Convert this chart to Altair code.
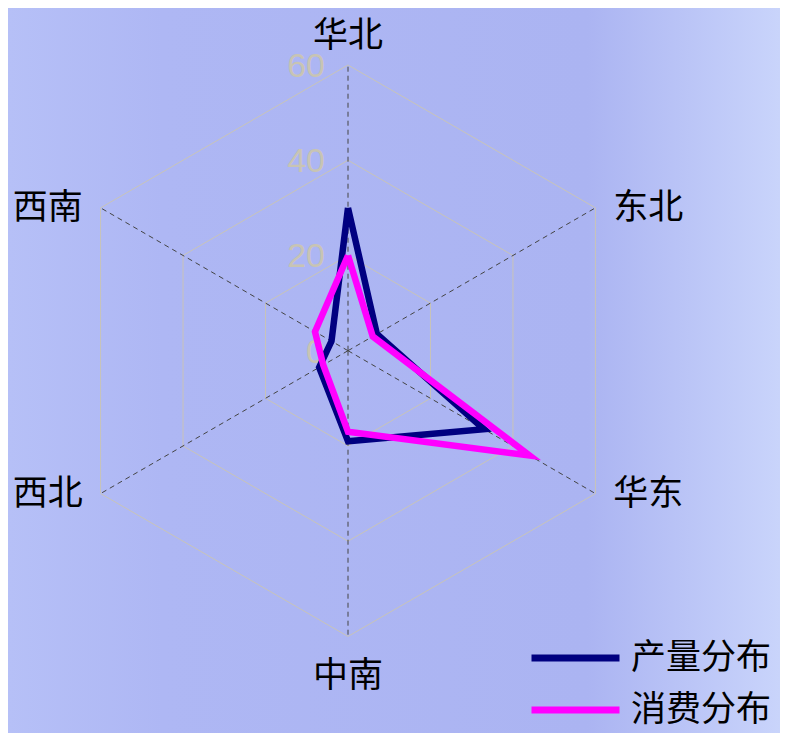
import altair as alt
import pandas as pd

# ---- data ----
regions = ["华北", "东北", "华东", "中南", "西北", "西南"]
production = [30, 7, 33, 19, 7, 4]      # 产量分布
consumption = [20, 6, 44, 17, 6, 8]     # 消费分布
series_names = ["产量分布", "消费分布"]
series_colors = ["#000080", "#ff00ff"]
tick_values = [0, 20, 40, 60]
grid_levels = [20, 40, 60]
R_MAX = 60

# ---- tables built from the arrays ----
n = len(regions)
rows = []
for name, vals in zip(series_names, [production, consumption]):
    closed = vals + [vals[0]]
    for i, v in enumerate(closed):
        rows.append({"series": name, "idx": i % n, "order": i, "value": v})
series_df = pd.DataFrame(rows)

grid_rows = []
for lvl in grid_levels:
    for i in range(n + 1):
        grid_rows.append({"level": lvl, "idx": i % n, "order": i, "value": lvl})
grid_df = pd.DataFrame(grid_rows)

region_df = pd.DataFrame({"region": regions, "idx": list(range(n)), "value": [R_MAX] * n})
tick_df = pd.DataFrame({"tick": tick_values, "label": [str(t) for t in tick_values]})

W, H = 772, 725
xscale = alt.Scale(domain=[-71.40, 90.72], nice=False, zero=False)
yscale = alt.Scale(domain=[-80.28, 71.97], nice=False, zero=False)

ANG = "datum.idx * 2 * PI / 6"

def polar(chart):
    return chart.transform_calculate(
        px=f"datum.value * sin({ANG})",
        py=f"datum.value * cos({ANG})",
    )

# background gradient
bg = alt.Chart(alt.Data(values=[{"a": 1}])).mark_rect(
    fill=alt.LinearGradient(
        gradient="linear", x1=0, x2=1, y1=0, y2=0,
        stops=[
            alt.GradientStop(color="#b6c0f7", offset=0),
            alt.GradientStop(color="#aeb7f4", offset=0.2),
            alt.GradientStop(color="#abb4f2", offset=0.75),
            alt.GradientStop(color="#c9d4fb", offset=1),
        ],
    ),
    stroke=None,
).encode(x=alt.value(0), x2=alt.value(W), y=alt.value(0), y2=alt.value(H))

grid = polar(alt.Chart(grid_df)).mark_line(
    color="#c8c4b8", strokeWidth=1
).encode(
    x=alt.X("px:Q", scale=xscale, axis=None),
    y=alt.Y("py:Q", scale=yscale, axis=None),
    detail="level:N",
    order="order:Q",
)

spokes = alt.Chart(region_df).transform_calculate(
    x0="0", y0="0",
    px=f"datum.value * sin({ANG})",
    py=f"datum.value * cos({ANG})",
).mark_rule(color="#444444", strokeWidth=1, strokeDash=[5, 4]).encode(
    x=alt.X("x0:Q", scale=xscale, axis=None),
    y=alt.Y("y0:Q", scale=yscale, axis=None),
    x2="px:Q",
    y2="py:Q",
)

ticks = alt.Chart(tick_df).transform_calculate(x0="0").mark_text(
    align="right", baseline="middle", dx=-23, dy=2,
    fontSize=34, font="Liberation Sans", color="#c8c4b4",
).encode(
    x=alt.X("x0:Q", scale=xscale, axis=None),
    y=alt.Y("tick:Q", scale=yscale, axis=None),
    text="label:N",
)

labels = alt.Chart(region_df).transform_calculate(
    sx=f"sin({ANG})", cy=f"cos({ANG})",
).transform_calculate(
    lx="datum.value * datum.sx + (datum.sx > 0.1 ? 11.1 : (datum.sx < -0.1 ? -11.1 : 0))",
    ly="datum.value * datum.cy + (datum.cy > 0.99 ? 6.0 : (datum.cy < -0.99 ? -8.4 : 0))",
).mark_text(
    align="center", baseline="middle", fontSize=35,
    font="Noto Sans CJK SC", color="black",
).encode(
    x=alt.X("lx:Q", scale=xscale, axis=None),
    y=alt.Y("ly:Q", scale=yscale, axis=None),
    text="region:N",
)

color = alt.Color(
    "series:N",
    scale=alt.Scale(domain=series_names, range=series_colors),
    legend=alt.Legend(
        title=None, orient="none", legendX=520, legendY=630,
        symbolType="stroke", symbolSize=88 * 88, symbolStrokeWidth=7,
        clipHeight=40, rowPadding=12, labelOffset=8, padding=0,
        labelFontSize=35, labelFont="Noto Sans CJK SC", labelColor="black",
        labelLimit=400,
    ),
)

def series_layer(name):
    return polar(alt.Chart(series_df)).transform_filter(
        alt.datum.series == name
    ).mark_line(strokeWidth=6.5, strokeJoin="miter", strokeMiterLimit=10).encode(
        x=alt.X("px:Q", scale=xscale, axis=None),
        y=alt.Y("py:Q", scale=yscale, axis=None),
        color=color,
        order="order:Q",
    )

chart = alt.layer(
    bg, grid, spokes, ticks, labels,
    series_layer(series_names[0]), series_layer(series_names[1]),
).properties(
    width=W, height=H, padding=0, autosize=alt.AutoSizeParams(type="none"),
    background="#adb6f3",
).configure_view(stroke=None)

chart.save("out.html", embed_options={"renderer": "svg", "actions": False})
